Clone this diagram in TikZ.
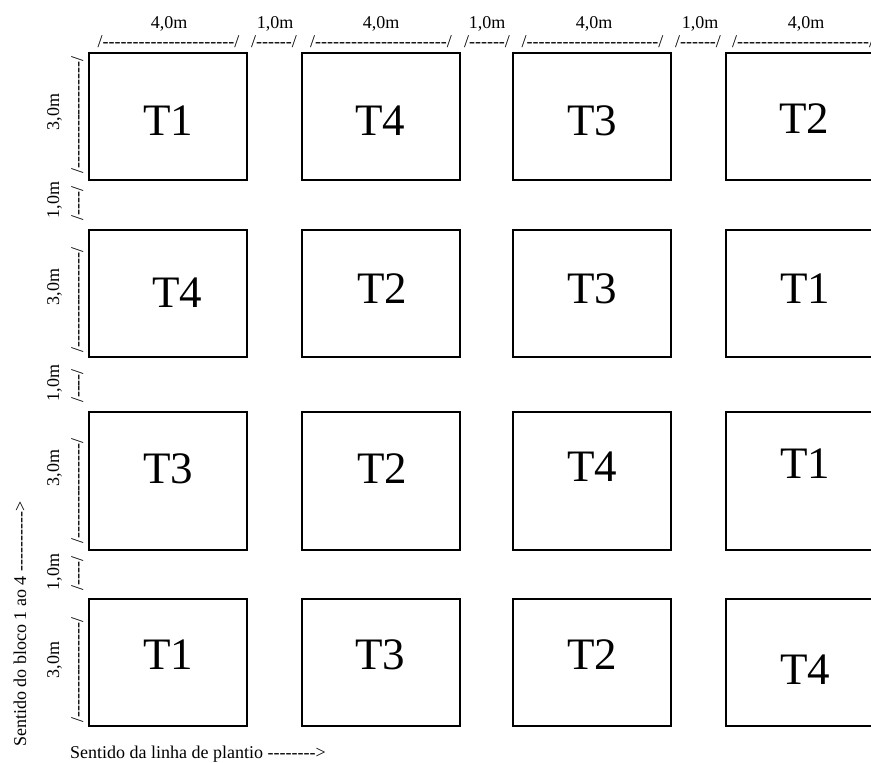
\documentclass[tikz,border=0pt]{standalone}
\usepackage{fontspec}
\setmainfont{Liberation Serif}[Ligatures=TeXOff]
\usepackage{tikz}
\usetikzlibrary{positioning}

\begin{document}
\begin{tikzpicture}[x=1pt, y=-1pt,
  plot/.style  = {draw, line width=1.8pt, minimum width=158pt,
                  minimum height=127pt, inner sep=0pt},
  tall/.style  = {plot, minimum height=138pt},
  tname/.style = {font=\fontsize{45}{47}\selectfont, inner sep=0pt},
  dim/.style   = {font=\fontsize{18}{20}\selectfont, inner sep=0pt, anchor=base},
  vdim/.style  = {dim, rotate=90}
]
  \useasboundingbox (0,0) rectangle (871,763);
  \clip (0,0) rectangle (871,763);

  %% plots, row 1
  \node[plot] (b11) at (168,116.5) {};
  \node[plot] (b12) at (381,116.5) {};
  \node[plot] (b13) at (592,116.5) {};
  \node[plot] (b14) at (805,116.5) {};
  %% plots, row 2
  \node[plot] (b21) at (168,293.5) {};
  \node[plot] (b22) at (381,293.5) {};
  \node[plot] (b23) at (592,293.5) {};
  \node[plot] (b24) at (805,293.5) {};
  %% plots, row 3
  \node[tall] (b31) at (168,481) {};
  \node[tall] (b32) at (381,481) {};
  \node[tall] (b33) at (592,481) {};
  \node[tall] (b34) at (805,481) {};
  %% plots, row 4
  \node[plot] (b41) at (168,662.5) {};
  \node[plot] (b42) at (381,662.5) {};
  \node[plot] (b43) at (592,662.5) {};
  \node[plot] (b44) at (805,662.5) {};

  %% treatments
  \node[tname] (t11) at (168,121) {T1};
  \node[tname] (t12) at (380,121) {T4};
  \node[tname] (t13) at (592,121) {T3};
  \node[tname] (t14) at (804,119) {T2};
  \node[tname] (t21) at (177,293) {T4};
  \node[tname] (t22) at (382,289) {T2};
  \node[tname] (t23) at (592,289) {T3};
  \node[tname] (t24) at (805,289) {T1};
  \node[tname] (t31) at (168,469) {T3};
  \node[tname] (t32) at (382,469) {T2};
  \node[tname] (t33) at (592,467) {T4};
  \node[tname] (t34) at (805,464) {T1};
  \node[tname] (t41) at (168,655) {T1};
  \node[tname] (t42) at (380,655) {T3};
  \node[tname] (t43) at (592,655) {T2};
  \node[tname] (t44) at (805,670) {T4};

  %% widths along the top
  \node[dim] (w1) at (169,28) {4,0m};
  \node[dim] (s1) at (275,28) {1,0m};
  \node[dim] (w2) at (381,28) {4,0m};
  \node[dim] (s2) at (487,28) {1,0m};
  \node[dim] (w3) at (594,28) {4,0m};
  \node[dim] (s3) at (700,28) {1,0m};
  \node[dim] (w4) at (806,28) {4,0m};
  \node[dim] (dw1) at (168.5,47) {/----------------------/};
  \node[dim] (ds1) at (274,47)   {/------/};
  \node[dim] (dw2) at (381,47)   {/----------------------/};
  \node[dim] (ds2) at (487,47)   {/------/};
  \node[dim] (dw3) at (592.5,47) {/----------------------/};
  \node[dim] (ds3) at (698,47)   {/------/};
  \node[dim, anchor=base west] (dw4) at (732,47) {/----------------------/};

  %% lengths down the left side
  \node[vdim] (l1) at (59,112) {3,0m};
  \node[vdim] (g1) at (59,200) {1,0m};
  \node[vdim] (l2) at (59,287) {3,0m};
  \node[vdim] (g2) at (59,383) {1,0m};
  \node[vdim] (l3) at (59,468) {3,0m};
  \node[vdim] (g3) at (59,572) {1,0m};
  \node[vdim] (l4) at (59,660) {3,0m};
  \node[vdim] (dl1) at (83,115)   {/------------------/};
  \node[vdim] (dg1) at (83,203.5) {/----/};
  \node[vdim] (dl2) at (83,300)   {/----------------/};
  \node[vdim] (dg2) at (83,386)   {/----/};
  \node[vdim] (dl3) at (83,491)   {/----------------/};
  \node[vdim] (dg3) at (83,573.5) {/----/};
  \node[vdim] (dl4) at (83,670)   {/----------------/};

  %% directions
  \node[vdim, anchor=base west] (blk) at (26,747) {Sentido do bloco 1 ao 4 ---------->};
  \node[dim, anchor=base west] (row) at (70,758) {Sentido da linha de plantio -------->};
\end{tikzpicture}
\end{document}
